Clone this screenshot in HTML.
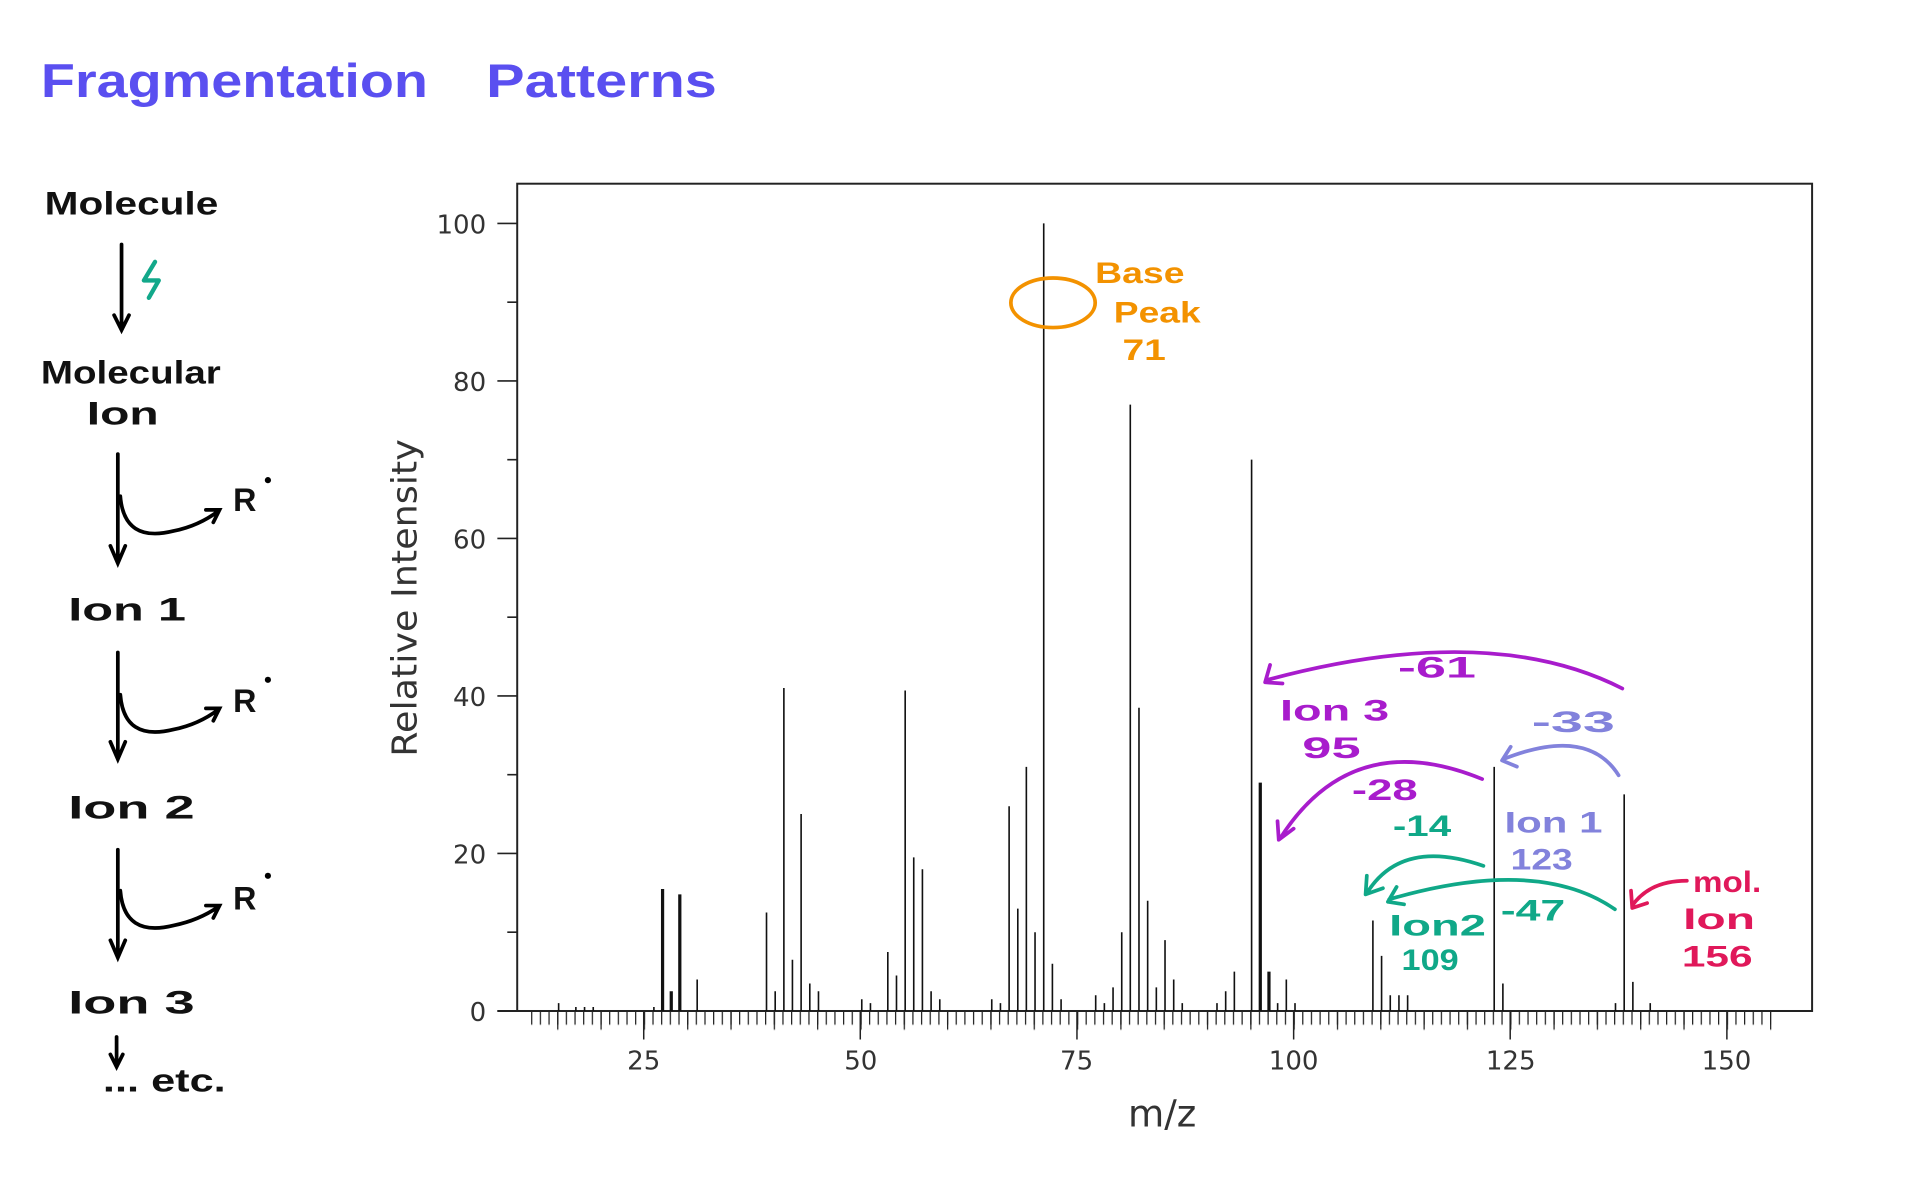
<!DOCTYPE html>
<html><head><meta charset="utf-8"><style>
html,body{margin:0;padding:0;background:#fff;}
svg{display:block;}
.h{font-family:"Liberation Sans",sans-serif;font-weight:bold;}
.ax{font-family:"DejaVu Sans","Liberation Sans",sans-serif;fill:#333;}
</style></head><body>
<svg width="1920" height="1186" viewBox="0 0 1548 956" xmlns="http://www.w3.org/2000/svg">
<defs>
<pattern id="t1" patternUnits="userSpaceOnUse" x="428.2" y="815" width="6.985" height="12"><line x1="0.5" y1="0" x2="0.5" y2="11" stroke="#222" stroke-width="1"/></pattern>
<pattern id="t5" patternUnits="userSpaceOnUse" x="449.2" y="815" width="34.925" height="16"><line x1="0.5" y1="0" x2="0.5" y2="15" stroke="#222" stroke-width="1"/></pattern>
<marker id="ab" markerWidth="8" markerHeight="8" refX="4" refY="4" orient="auto" markerUnits="userSpaceOnUse"><path d="M0,0 L8,4 L0,8" fill="none" stroke="#000" stroke-width="2"/></marker>
</defs>
<!-- title -->
<text x="33" y="78" class="h" font-size="38" fill="#5a4ff0" textLength="312" lengthAdjust="spacingAndGlyphs">Fragmentation</text>
<text x="392" y="78" class="h" font-size="38" fill="#5a4ff0" textLength="186" lengthAdjust="spacingAndGlyphs">Patterns</text>

<!-- left flow -->
<g class="h" font-size="26" fill="#111">
<text x="36" y="173" textLength="140" lengthAdjust="spacingAndGlyphs">Molecule</text>
<text x="33" y="309" textLength="145" lengthAdjust="spacingAndGlyphs">Molecular</text>
<text x="70" y="342" textLength="58" lengthAdjust="spacingAndGlyphs">Ion</text>
<text x="55" y="500" textLength="95" lengthAdjust="spacingAndGlyphs">Ion 1</text>
<text x="55" y="660" textLength="102" lengthAdjust="spacingAndGlyphs">Ion 2</text>
<text x="55" y="817" textLength="102" lengthAdjust="spacingAndGlyphs">Ion 3</text>
<text x="83" y="880" textLength="99" lengthAdjust="spacingAndGlyphs">... etc.</text>
<text x="188" y="412">R</text><text x="188" y="574">R</text><text x="188" y="733">R</text>
</g>
<g fill="#000"><circle cx="216" cy="387" r="2.5"/><circle cx="216" cy="548" r="2.5"/><circle cx="216" cy="706" r="2.5"/></g>
<g stroke="#000" stroke-width="3" fill="none" stroke-linecap="round">
<path d="M98,197 V264 M92,254 L98,266 L104,254"/>
<path d="M95,366 V452 M89,440 L95,454 L101,440"/>
<path d="M97,400 Q100,438 140,428 Q160,424 176,412 M166,411 L177,411 L172,421"/>
<path d="M95,526 V610 M89,598 L95,612 L101,598"/>
<path d="M97,560 Q100,598 140,588 Q160,584 176,572 M166,571 L177,571 L172,581"/>
<path d="M95,685 V770 M89,758 L95,772 L101,758"/>
<path d="M97,718 Q100,756 140,746 Q160,742 176,731 M166,730 L177,730 L172,740"/>
<path d="M94,836 V858 M89,850 L94,860 L99,850"/>
</g>
<path d="M125,211 L116,226 L128,226 L120,240" stroke="#12a88a" stroke-width="3.5" fill="none" stroke-linecap="round" stroke-linejoin="round"/>

<!-- frame -->
<rect x="417" y="148" width="1044" height="667" fill="none" stroke="#222" stroke-width="1.6"/>
<line x1="401" y1="815" x2="1461" y2="815" stroke="#222" stroke-width="1.6"/>
<!-- y ticks -->
<path d="M401,815H417M401,688H417M401,561H417M401,434H417M401,307H417M401,180H417M409,751.5H417M409,624.5H417M409,497.5H417M409,370.5H417M409,243.5H417" stroke="#222" stroke-width="1.3"/>
<g class="ax" font-size="21" text-anchor="end">
<text x="392" y="823">0</text><text x="392" y="696">20</text><text x="392" y="569">40</text>
<text x="392" y="442">60</text><text x="392" y="315">80</text><text x="392" y="188">100</text>
</g>
<!-- x ticks -->
<rect x="428" y="815" width="1000" height="12" fill="url(#t1)"/>
<rect x="449" y="815" width="980" height="16" fill="url(#t5)"/>
<path d="M519,815V838M693.6,815V838M868.3,815V838M1043,815V838M1217.6,815V838M1392.3,815V838" stroke="#222" stroke-width="1.2"/>
<g class="ax" font-size="21" text-anchor="middle">
<text x="519" y="862">25</text><text x="694" y="862">50</text><text x="868" y="862">75</text>
<text x="1043" y="862">100</text><text x="1218" y="862">125</text><text x="1392" y="862">150</text>
</g>
<text class="ax" x="937" y="908" font-size="30" text-anchor="middle" fill="#444">m/z</text>
<text class="ax" transform="translate(336,482) rotate(-90)" font-size="28" text-anchor="middle" fill="#444" textLength="256" lengthAdjust="spacingAndGlyphs">Relative Intensity</text>

<!-- peaks -->
<g transform="translate(1.2,0)">
<path stroke="#111" stroke-width="1.3" fill="none" d="M449.2,815V808.7M463.1,815V811.8M470.1,815V811.8M477.1,815V811.8M526,815V811.8M560.9,815V789.6M616.8,815V735.6M623.8,815V799.1M630.8,815V554.6M637.7,815V773.7M644.7,815V656.2M651.7,815V792.8M658.7,815V799.1M693.6,815V805.5M700.6,815V808.7M714.6,815V767.4M721.6,815V786.4M728.6,815V556.6M735.5,815V691.2M742.5,815V700.7M749.5,815V799.1M756.5,815V805.5M798.4,815V805.5M805.4,815V808.7M812.4,815V649.9M819.4,815V732.5M826.3,815V618.2M833.3,815V751.5M840.3,815V180M847.3,815V776.9M854.3,815V805.5M882.2,815V802.3M889.2,815V808.7M896.2,815V796M903.2,815V751.5M910.1,815V326.1M917.1,815V570.5M924.1,815V726.1M931.1,815V796M938.1,815V757.9M945.1,815V789.6M952,815V808.7M980,815V808.7M987,815V799.1M994,815V783.3M1007.9,815V370.5M1028.9,815V808.7M1035.9,815V789.6M1042.9,815V808.7M1105.7,815V742M1112.7,815V770.6M1119.7,815V802.3M1126.7,815V802.3M1133.7,815V802.3M1203.5,815V618.2M1210.5,815V792.8M1301.3,815V808.7M1308.3,815V640.4M1315.3,815V791.5M1329.3,815V808.7"/>
<path stroke="#111" stroke-width="2.6" fill="none" d="M533,815V716.6M540,815V799.1M546.9,815V721M1014.9,815V630.9M1021.9,815V783.3"/>
</g>

<!-- annotations -->
<ellipse cx="849" cy="244" rx="34" ry="20" fill="none" stroke="#f39200" stroke-width="3"/>
<g class="h" fill="#f39200" font-size="24">
<text x="883" y="228" textLength="72" lengthAdjust="spacingAndGlyphs">Base</text>
<text x="898" y="260" textLength="70" lengthAdjust="spacingAndGlyphs">Peak</text>
<text x="905" y="290" textLength="35" lengthAdjust="spacingAndGlyphs">71</text>
</g>
<g fill="none" stroke-width="3" stroke-linecap="round" stroke-linejoin="round">
<path d="M1308,555 Q1200,500 1022,548 M1024,536 L1020,550 L1034,551" stroke="#a81ccc"/>
<path d="M1195,628 Q1090,585 1032,676 M1030,662 L1031,677 L1043,668" stroke="#a81ccc"/>
<path d="M1305,625 Q1280,585 1212,612 M1218,602 L1211,613 L1223,618" stroke="#8282dc"/>
<path d="M1196,698 Q1130,675 1102,720 M1102,706 L1101,721 L1115,716" stroke="#10a888"/>
<path d="M1302,733 Q1240,690 1120,725 M1126,715 L1119,727 L1132,729" stroke="#10a888"/>
<path d="M1360,710 Q1330,710 1316,730 M1315,718 L1316,732 L1328,728" stroke="#e0185a"/>
</g>
<g class="h" font-size="24">
<text x="1127" y="546" fill="#a81ccc" textLength="63" lengthAdjust="spacingAndGlyphs">-61</text>
<text x="1032" y="581" fill="#a81ccc" textLength="88" lengthAdjust="spacingAndGlyphs">Ion 3</text>
<text x="1050" y="611" fill="#a81ccc" textLength="47" lengthAdjust="spacingAndGlyphs">95</text>
<text x="1090" y="645" fill="#a81ccc" textLength="53" lengthAdjust="spacingAndGlyphs">-28</text>
<text x="1235" y="590" fill="#8282dc" textLength="67" lengthAdjust="spacingAndGlyphs">-33</text>
<text x="1213" y="671" fill="#8282dc" textLength="79" lengthAdjust="spacingAndGlyphs">Ion 1</text>
<text x="1218" y="701" fill="#8282dc" textLength="50" lengthAdjust="spacingAndGlyphs">123</text>
<text x="1123" y="674" fill="#10a888" textLength="47" lengthAdjust="spacingAndGlyphs">-14</text>
<text x="1210" y="742" fill="#10a888" textLength="52" lengthAdjust="spacingAndGlyphs">-47</text>
<text x="1120" y="754" fill="#10a888" textLength="78" lengthAdjust="spacingAndGlyphs">Ion2</text>
<text x="1130" y="782" fill="#10a888" textLength="46" lengthAdjust="spacingAndGlyphs">109</text>
<text x="1365" y="719" fill="#e0185a" textLength="55" lengthAdjust="spacingAndGlyphs">mol.</text>
<text x="1357" y="749" fill="#e0185a" textLength="58" lengthAdjust="spacingAndGlyphs">Ion</text>
<text x="1356" y="779" fill="#e0185a" textLength="57" lengthAdjust="spacingAndGlyphs">156</text>
</g>
</svg>
</body></html>
